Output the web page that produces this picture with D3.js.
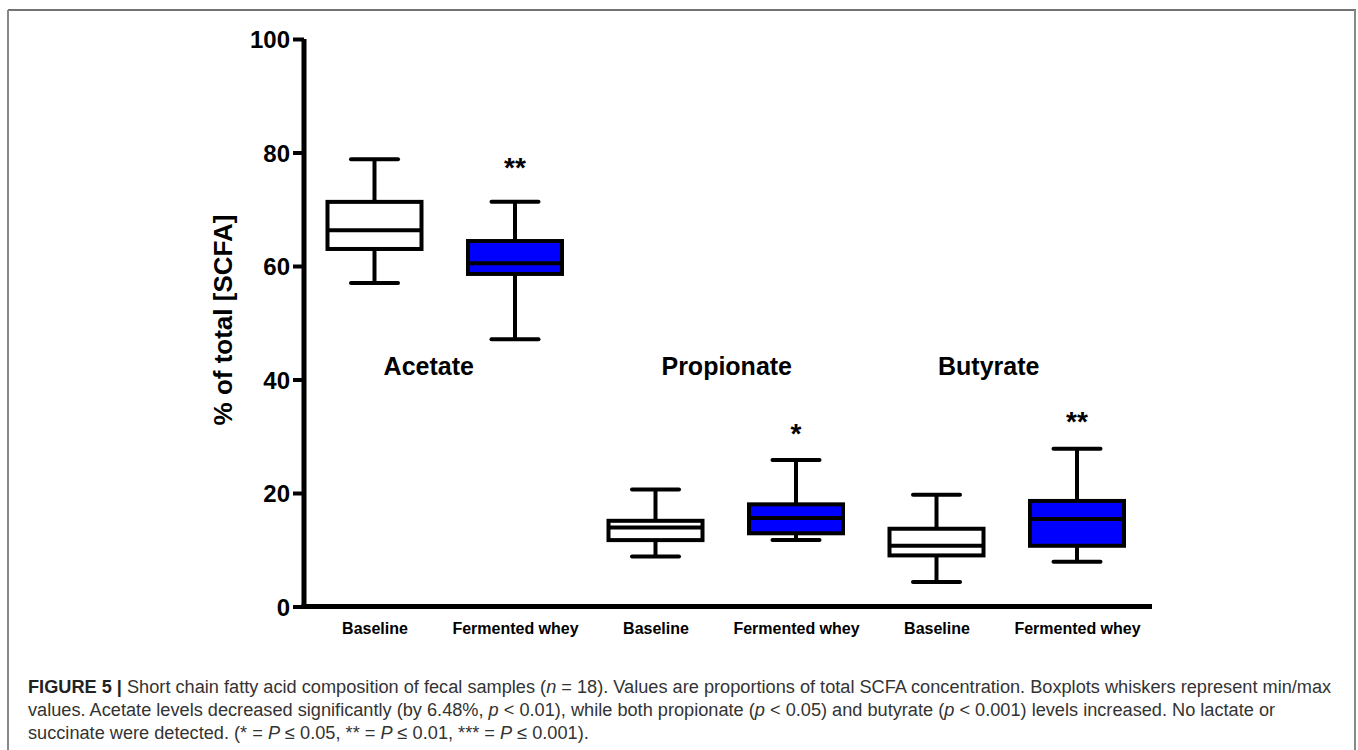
<!DOCTYPE html>
<html>
<head>
<meta charset="utf-8">
<script src="https://cdn.jsdelivr.net/npm/d3@7"></script>
<style>
  html, body { margin: 0; padding: 0; background: #fff; }
  svg { display: block; }
  text { font-family: "Liberation Sans", Arial, sans-serif; }
</style>
</head>
<body>
<svg id="chart" width="1358" height="750"></svg>
<script>
// ---- data ----
const groups = ["Acetate", "Propionate", "Butyrate"];
const conditions = ["Baseline", "Fermented whey"];
const boxGroup = ["Acetate", "Acetate", "Propionate", "Propionate", "Butyrate", "Butyrate"];
const boxCondition = ["Baseline", "Fermented whey", "Baseline", "Fermented whey", "Baseline", "Fermented whey"];
const mins    = [57.0, 47.1,  8.8, 11.7,  4.3,  7.9];
const q1s     = [63.0, 58.6, 11.7, 12.9,  9.0, 10.7];
const medians = [66.3, 60.5, 13.9, 15.6, 10.7, 15.4];
const q3s     = [71.3, 64.4, 15.1, 18.0, 13.7, 18.6];
const maxs    = [78.8, 71.3, 20.6, 25.8, 19.7, 27.8];
const significance = ["", "**", "", "*", "", "**"];
const significanceLevel = [0, 77.6, 0, 30.8, 0, 32.9];  // data units where the asterisks sit
const yTicks = [0, 20, 40, 60, 80, 100];
const groupLabelLevel = 41;   // data units: baseline of group names
const yTitle = "% of total [SCFA]";

// ---- layout ----
const svg = d3.select("#chart");
const idx = d3.range(boxGroup.length);
const x = d3.scalePoint().domain(idx).range([374.5, 1077]);
const y = d3.scaleLinear().domain([0, 100]).range([606.5, 39]);
const boxW = 94, capW = 47;
const axisX = 304, axisRight = 1152;
const groupLabelShift = [-16, 1, -18];

const fillFor = c => c === "Baseline" ? "#ffffff" : "#0000ff";

// frame
svg.append("line").attr("x1", 8).attr("x2", 1356).attr("y1", 10).attr("y2", 10)
  .attr("stroke", "#444").attr("stroke-width", 1.5);
svg.append("line").attr("x1", 8).attr("x2", 8).attr("y1", 10).attr("y2", 750)
  .attr("stroke", "#888").attr("stroke-width", 2);
svg.append("line").attr("x1", 1355).attr("x2", 1355).attr("y1", 10).attr("y2", 750)
  .attr("stroke", "#888").attr("stroke-width", 2);

// y axis
const yAxis = svg.append("g").attr("transform", `translate(${axisX},0)`)
  .call(d3.axisLeft(y).tickValues(yTicks).tickSize(11).tickPadding(3).tickSizeOuter(0));
yAxis.select(".domain").attr("stroke", "#000").attr("stroke-width", 5)
  .attr("d", `M0,${y(100)}V${y(0) + 2.5}`);
yAxis.selectAll(".tick line").attr("stroke", "#000").attr("stroke-width", 4);
yAxis.selectAll(".tick text").attr("fill", "#000")
  .style("font-size", "24px").style("font-weight", "bold").attr("dy", "0.36em");

// x axis
const xAxis = svg.append("g").attr("transform", `translate(0,${y(0)})`)
  .call(d3.axisBottom(x).tickSize(0).tickPadding(16).tickFormat(i => boxCondition[i]));
xAxis.select(".domain").attr("stroke", "#000").attr("stroke-width", 5)
  .attr("d", `M${axisX - 2.5},0H${axisRight}`);
xAxis.selectAll(".tick text").attr("fill", "#000")
  .style("font-size", "16px").style("font-weight", "bold");

// y title
svg.append("text")
  .attr("transform", `translate(232,320) rotate(-90)`)
  .attr("text-anchor", "middle")
  .style("font-size", "26px").style("font-weight", "bold")
  .text(yTitle);

// boxes
const g = svg.append("g");
const sw = 4;
idx.forEach(i => {
  const cx = x(i);
  const bg = g.append("g");
  bg.append("line").attr("x1", cx).attr("x2", cx).attr("y1", y(maxs[i])).attr("y2", y(q3s[i]))
    .attr("stroke", "#000").attr("stroke-width", sw);
  bg.append("line").attr("x1", cx).attr("x2", cx).attr("y1", y(q1s[i])).attr("y2", y(mins[i]))
    .attr("stroke", "#000").attr("stroke-width", sw);
  bg.append("line").attr("x1", cx - capW / 2).attr("x2", cx + capW / 2)
    .attr("y1", y(maxs[i])).attr("y2", y(maxs[i]))
    .attr("stroke", "#000").attr("stroke-width", sw).attr("stroke-linecap", "round");
  bg.append("line").attr("x1", cx - capW / 2).attr("x2", cx + capW / 2)
    .attr("y1", y(mins[i])).attr("y2", y(mins[i]))
    .attr("stroke", "#000").attr("stroke-width", sw).attr("stroke-linecap", "round");
  bg.append("rect").attr("x", cx - boxW / 2).attr("width", boxW)
    .attr("y", y(q3s[i])).attr("height", y(q1s[i]) - y(q3s[i]))
    .attr("fill", fillFor(boxCondition[i])).attr("stroke", "#000").attr("stroke-width", sw);
  bg.append("line").attr("x1", cx - boxW / 2).attr("x2", cx + boxW / 2)
    .attr("y1", y(medians[i])).attr("y2", y(medians[i]))
    .attr("stroke", "#000").attr("stroke-width", sw);
  if (significance[i]) {
    bg.append("text").attr("x", cx).attr("y", y(significanceLevel[i]) + 11)
      .attr("text-anchor", "middle")
      .style("font-size", "28px").style("font-weight", "bold")
      .text(significance[i]);
  }
});

// group labels
groups.forEach((gname, k) => {
  const members = idx.filter(i => boxGroup[i] === gname);
  const cx = d3.mean(members, i => x(i)) + groupLabelShift[k];
  svg.append("text").attr("x", cx).attr("y", y(groupLabelLevel) + 1)
    .attr("text-anchor", "middle")
    .style("font-size", "25px").style("font-weight", "bold")
    .text(gname);
});

// caption
const capLines = [
  [["b", "FIGURE 5 | "], ["", "Short chain fatty acid composition of fecal samples ("], ["i", "n"], ["", " = 18). Values are proportions of total SCFA concentration. Boxplots whiskers represent min/max"]],
  [["", "values. Acetate levels decreased significantly (by 6.48%, "], ["i", "p"], ["", " < 0.01), while both propionate ("], ["i", "p"], ["", " < 0.05) and butyrate ("], ["i", "p"], ["", " < 0.001) levels increased. No lactate or"]],
  [["", "succinate were detected. (* = "], ["i", "P"], ["", " ≤ 0.05, ** = "], ["i", "P"], ["", " ≤ 0.01, *** = "], ["i", "P"], ["", " ≤ 0.001)."]]
];
const capTargetW = 1304;
const cap = svg.append("g");
const texts = capLines.map((parts, li) => {
  const t = cap.append("text").attr("x", 28).attr("y", 693 + li * 23)
    .style("font-size", "16px").attr("fill", "#333");
  parts.forEach(([st, s]) => {
    const ts = t.append("tspan").text(s);
    if (st === "b") ts.style("font-weight", "bold").attr("fill", "#222");
    if (st === "i") ts.style("font-style", "italic");
  });
  return t;
});
const w0 = texts[0].node().getComputedTextLength();
const fs = 16 * capTargetW / w0;
texts.forEach(t => t.style("font-size", fs.toFixed(2) + "px"));
</script>
</body>
</html>
